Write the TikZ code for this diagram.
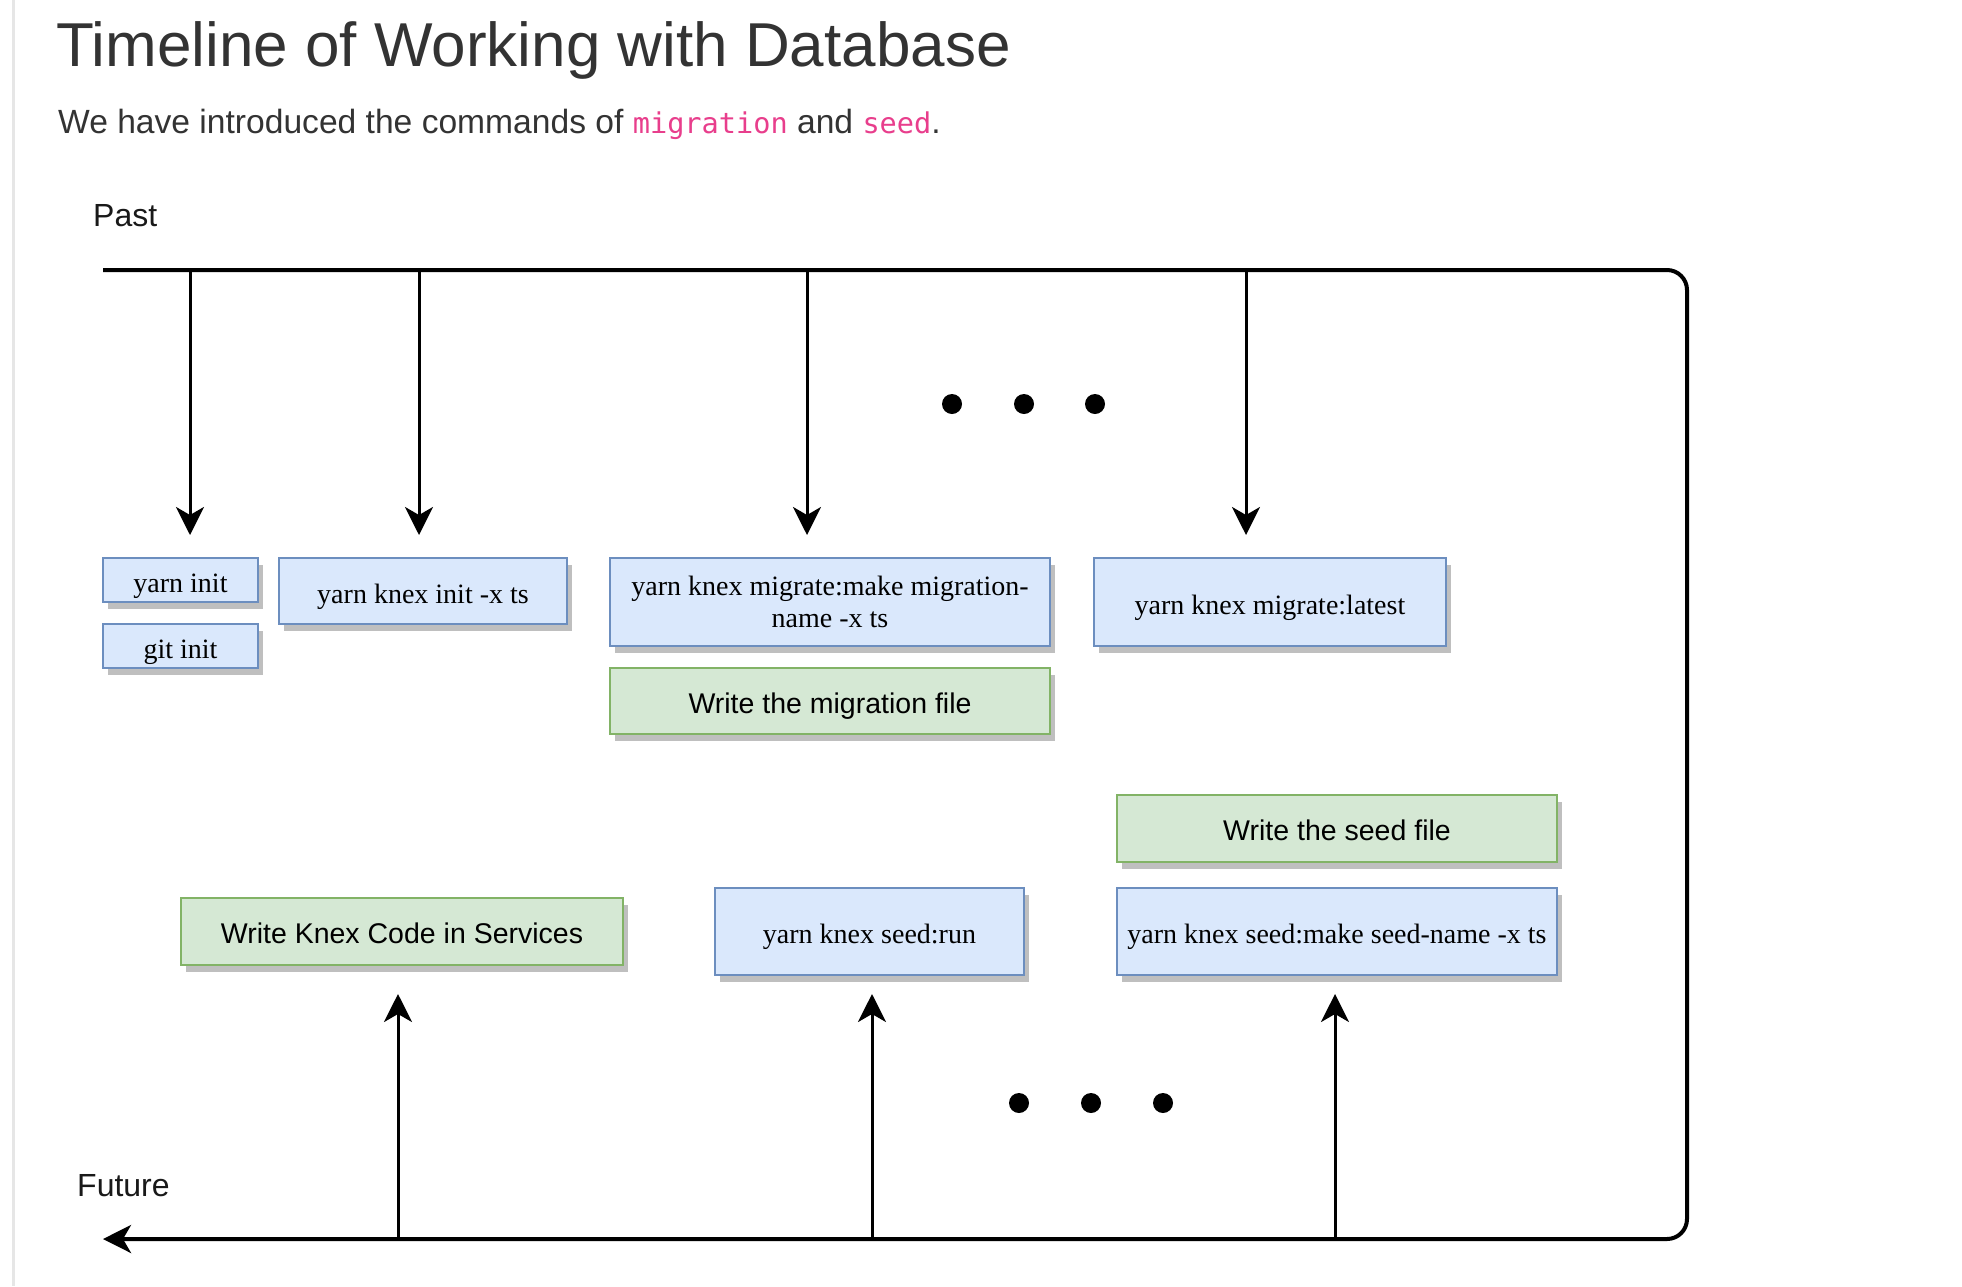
\documentclass[tikz,border=0pt]{standalone}
\usepackage{fontspec}
\setmainfont{Liberation Serif}
\setsansfont{Liberation Sans}
\setmonofont{DejaVu Sans Mono}
\usetikzlibrary{arrows.meta,shadows}

\definecolor{headgray}{HTML}{333333}
\definecolor{codepink}{HTML}{E83E8C}
\definecolor{cmdfill}{HTML}{DAE8FC}
\definecolor{cmdline}{HTML}{6C8EBF}
\definecolor{taskfill}{HTML}{D5E8D4}
\definecolor{taskline}{HTML}{82B366}
\definecolor{shadegray}{HTML}{BFBFBF}
\definecolor{pagerule}{HTML}{E6E6E6}

\newcommand{\codeword}[1]{\textcolor{codepink}{\fontsize{28.6}{34}\selectfont\ttfamily #1}}

\tikzset{
  cmdbox/.style={draw=cmdline, fill=cmdfill, line width=2pt, inner sep=0pt, align=center,
    anchor=north west, text=black, text height=24pt, text depth=0pt,
    font=\fontsize{28}{32}\selectfont\rmfamily,
    drop shadow={shadow xshift=5pt, shadow yshift=-7pt, fill=shadegray, opacity=1}},
  taskbox/.style={cmdbox, draw=taskline, fill=taskfill, font=\fontsize{28.5}{32}\selectfont\sffamily},
  timeaxis/.style={line width=4pt, rounded corners=20pt},
  tick/.style={line width=3pt, -{Stealth[length=28pt,width=28pt,inset=8pt]}},
  bigdot/.style={circle, fill=black, inner sep=0pt, minimum size=20pt},
  sidelabel/.style={anchor=west, inner sep=0pt, text=black!90, font=\fontsize{32}{38}\selectfont\sffamily}
}

\begin{document}
\begin{tikzpicture}[x=1pt,y=1pt,yscale=-1,xscale=1]
\useasboundingbox (0,0) rectangle (1962,1286);
%page edge
\draw [pagerule, line width=3pt] (13.5,0) -- (13.5,1286);

% Text Node
\node (title) [anchor=base west, inner sep=0pt, text=headgray, font=\fontsize{62}{70}\selectfont\sffamily] at (56,66) {Timeline of Working with Database};
% Text Node
\node (intro) [anchor=base west, inner sep=0pt, text=headgray, font=\fontsize{33.6}{38}\selectfont\sffamily] at (58,133) {We have introduced the commands of \codeword{migration} and \codeword{seed}.};
% Text Node
\node (past) [sidelabel] at (93,216) {Past};
% Text Node
\node (future) [sidelabel] at (77,1186) {Future};

%Shape: command boxes
\node (yarninit) [cmdbox, minimum width=155, minimum height=44] at (102,557) {yarn init};
\node (gitinit) [cmdbox, minimum width=155, minimum height=44] at (102,623) {git init};
\node (knexinit) [cmdbox, minimum width=288, minimum height=66] at (278,557) {yarn knex init -x ts};
\node (migmake) [cmdbox, text height={}, text depth={}, minimum width=440, minimum height=88] at (609,557) {yarn knex migrate:make migration-\\name -x ts};
\node (migfile) [taskbox, minimum width=440, minimum height=66] at (609,667) {Write the migration file};
\node (miglatest) [cmdbox, minimum width=352, minimum height=88] at (1093,557) {yarn knex migrate:latest};
\node (seedfile) [taskbox, minimum width=440, minimum height=67] at (1116,794) {Write the seed file};
\node (seedmake) [cmdbox, minimum width=440, minimum height=87] at (1116,887) {yarn knex seed:make seed-name -x ts};
\node (seedrun) [cmdbox, minimum width=309, minimum height=87] at (714,887) {yarn knex seed:run};
\node (services) [taskbox, minimum width=442, minimum height=67] at (180,897) {Write Knex Code in Services};

%Shape: time axis
\coordinate (paststart) at (103,270);
\coordinate (turntop) at (1687,270);
\coordinate (turnbottom) at (1687,1239);
\coordinate (futureend) at (103,1239);
\draw [timeaxis, -{Stealth[length=28pt,width=28pt,inset=8pt]}] (paststart) -- (turntop) -- (turnbottom) -- (futureend);

%Straight Lines: down arrows
\foreach \i/\x in {1/190, 2/419, 3/807, 4/1246} {
  \coordinate (down\i) at (\x,270);
  \coordinate (downtip\i) at (\x,535);
  \draw [tick] (down\i) -- (downtip\i);
}
%Straight Lines: up arrows
\foreach \i/\x in {1/398, 2/872, 3/1335} {
  \coordinate (up\i) at (\x,1239);
  \coordinate (uptip\i) at (\x,994);
  \draw [tick] (up\i) -- (uptip\i);
}

%Shape: dots
\foreach \i/\x in {1/952, 2/1024, 3/1095} \node (topdot\i) [bigdot] at (\x,404) {};
\foreach \i/\x in {1/1019, 2/1091, 3/1163} \node (lowdot\i) [bigdot] at (\x,1103) {};
\end{tikzpicture}
\end{document}
